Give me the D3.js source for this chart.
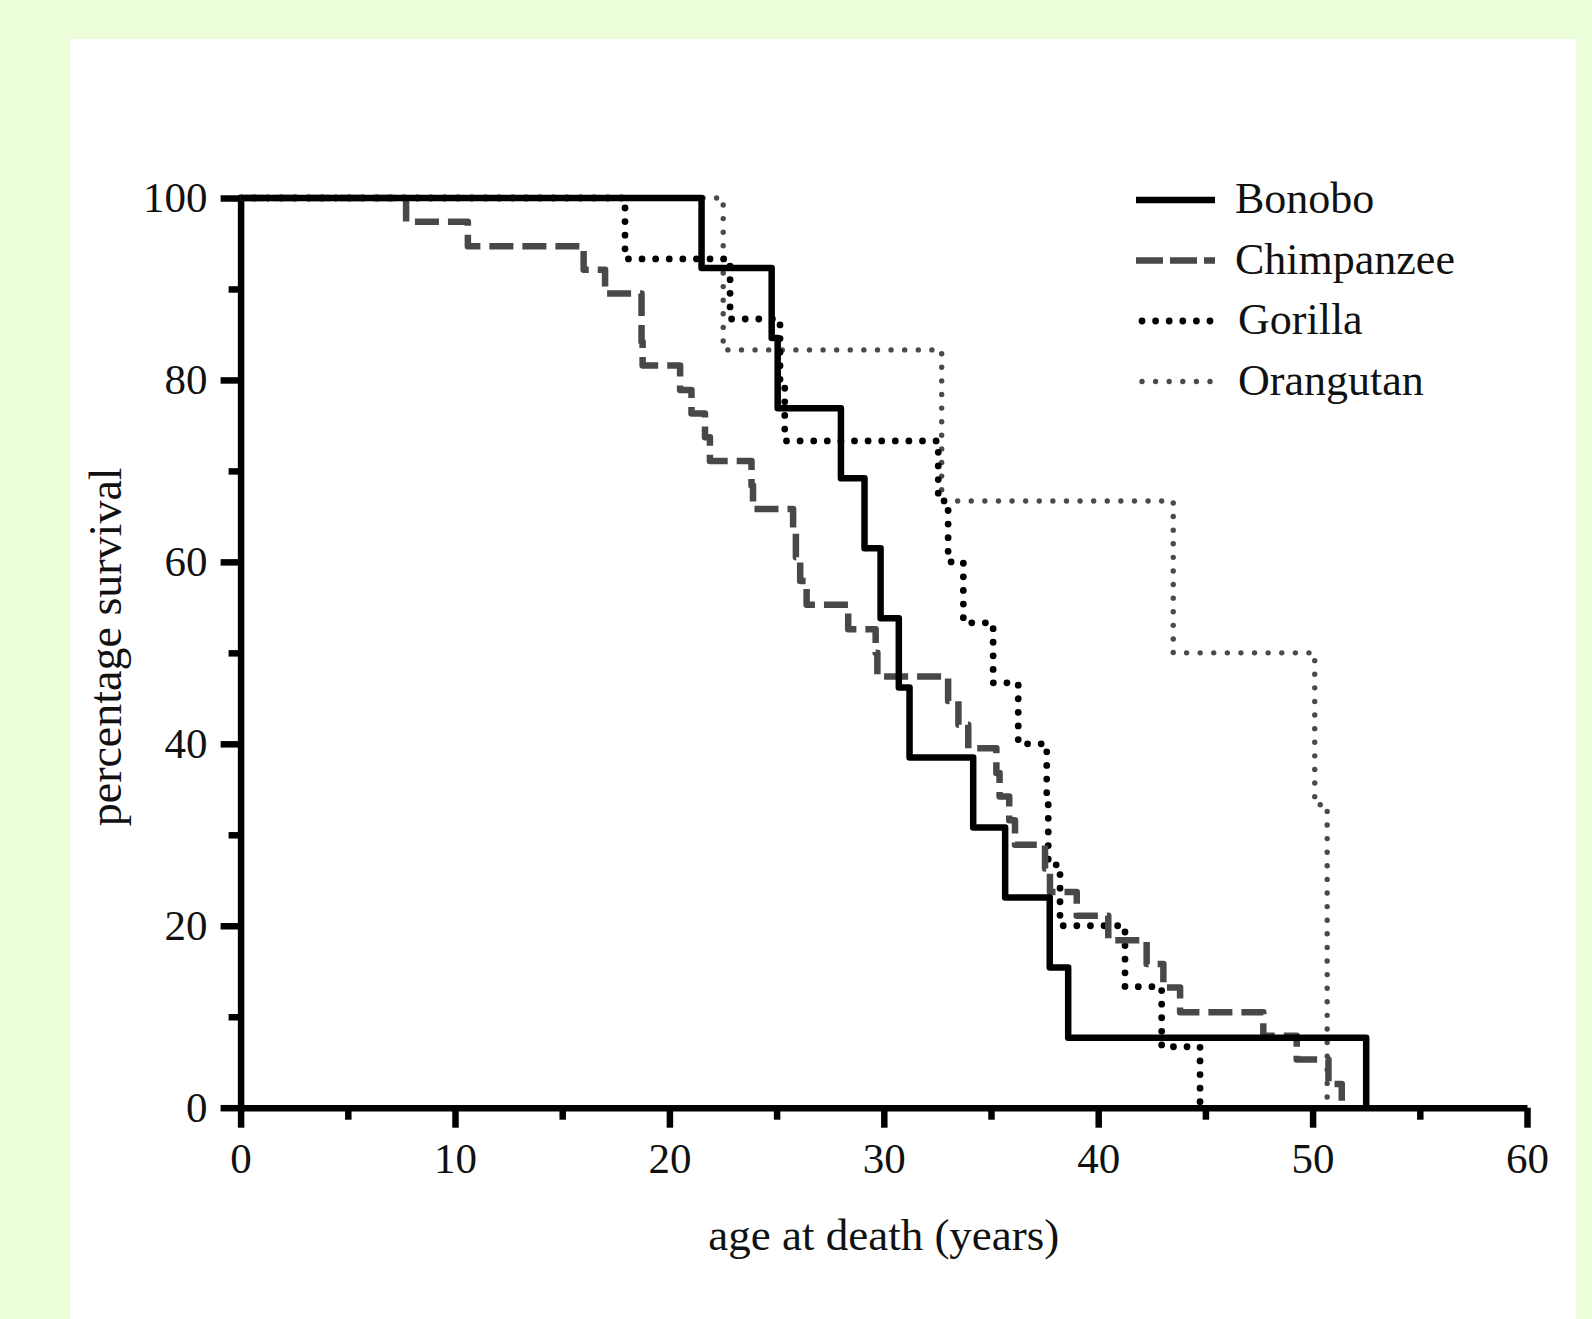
<!DOCTYPE html>
<html>
<head>
<meta charset="utf-8">
<script src="https://cdn.jsdelivr.net/npm/d3@7"></script>
<style>
  body { margin: 0; background: #ecfdda; }
  svg { display: block; }
  .axis path, .axis line { stroke: #000; stroke-width: 6.5; }
  .axis text { font-family: "Liberation Serif", "Times New Roman", serif; font-size: 43px; fill: #111; }
  .label { font-family: "Liberation Serif", "Times New Roman", serif; font-size: 45px; fill: #111; }
</style>
</head>
<body>
<div id="chart"></div>
<script>
// Survival curves: age at death (years) and % still alive after it
var bonoboAge  = [0, 21.5, 24.77, 25.05, 28.0, 29.1, 29.85, 30.7, 31.2, 34.17, 35.66, 37.74, 38.6, 52.5];
var bonoboSurv = [100, 92.3, 84.6, 76.9, 69.2, 61.5, 53.8, 46.2, 38.5, 30.8, 23.1, 15.4, 7.7, 0];

var chimpAge  = [0, 7.72, 10.6, 16.0, 17.0, 18.7, 18.7, 18.75, 20.5, 21.03, 21.66, 21.89, 23.83, 23.9,
                 25.77, 25.9, 26.1, 26.4, 28.34, 29.62, 29.7, 33.0, 33.48, 33.94, 35.25, 35.4, 35.85,
                 36.12, 37.52, 37.75, 39.0, 40.47, 42.26, 43.04, 43.82, 47.7, 49.26, 50.74, 51.36];
var chimpSurv = [100, 97.4, 94.7, 92.1, 89.5, 86.8, 84.2, 81.6, 78.9, 76.3, 73.7, 71.1, 68.4, 65.8,
                 63.2, 60.5, 57.9, 55.3, 52.6, 50.0, 47.4, 44.7, 42.1, 39.5, 36.8, 34.2, 31.6,
                 28.9, 26.3, 23.7, 21.1, 18.4, 15.8, 13.2, 10.5, 7.9, 5.3, 2.6, 0];

var gorillaAge  = [0, 17.93, 22.83, 25.16, 25.38, 32.54, 33.0, 33.71, 35.1, 36.27, 37.6, 37.67, 38.22, 41.25, 42.96, 44.75];
var gorillaSurv = [100, 93.3, 86.7, 80, 73.3, 66.7, 60, 53.3, 46.7, 40, 33.3, 26.7, 20, 13.3, 6.7, 0];

var orangAge  = [0, 22.51, 32.7, 43.5, 50.1, 50.68];
var orangSurv = [100, 83.3, 66.7, 50, 33.3, 0];

var species = ["Bonobo", "Chimpanzee", "Gorilla", "Orangutan"];
var xMajor = [0, 10, 20, 30, 40, 50, 60];
var xMinor = [5, 15, 25, 35, 45, 55];
var yMajor = [0, 20, 40, 60, 80, 100];
var yMinor = [10, 30, 50, 70, 90];

var width = 1592, height = 1319;
var margin = {top: 198, left: 240.6},
    w = 1286.4,
    h = 909.7;

var svg = d3.select("#chart")
  .append("svg")
  .attr("width", width)
  .attr("height", height);

svg.append("rect")
  .attr("width", width)
  .attr("height", height)
  .attr("fill", "#ecfdda");

// white panel
svg.append("rect")
  .attr("x", 70)
  .attr("y", 39)
  .attr("width", 1506)
  .attr("height", 1280)
  .attr("fill", "#fff");

var g = svg.append("g")
  .attr("transform", `translate(${margin.left},${margin.top})`);

var x = d3.scaleLinear().domain([0, 60]).range([0, w]);
var y = d3.scaleLinear().domain([0, 100]).range([h, 0]);

// minor ticks first, no labels
g.append("g")
  .attr("class", "axis")
  .call(d3.axisLeft(y).tickValues(yMinor).tickSize(12).tickFormat(""))
  .select(".domain").remove();
g.append("g")
  .attr("class", "axis")
  .attr("transform", "translate(0," + h + ")")
  .call(d3.axisBottom(x).tickValues(xMinor).tickSize(12).tickFormat(""))
  .select(".domain").remove();

g.append("g")
  .attr("class", "axis")
  .call(d3.axisLeft(y).tickValues(yMajor).tickSize(20).tickSizeOuter(0).tickPadding(13));
g.append("g")
  .attr("class", "axis")
  .attr("transform", "translate(0," + h + ")")
  .call(d3.axisBottom(x).tickValues(xMajor).tickSize(20).tickSizeOuter(0).tickPadding(15));

var series = [
  {name: "Bonobo", age: bonoboAge, surv: bonoboSurv, color: "#000", width: 6.5, dash: null, cap: "butt"},
  {name: "Chimpanzee", age: chimpAge, surv: chimpSurv, color: "#484848", width: 6.5, dash: "24,9", cap: "butt"},
  {name: "Gorilla", age: gorillaAge, surv: gorillaSurv, color: "#000", width: 6.8, dash: "0,13.6", cap: "round"},
  {name: "Orangutan", age: orangAge, surv: orangSurv, color: "#4a4a4a", width: 5.4, dash: "0,13.6", cap: "round"}
];

var line = d3.line()
  .x(d => x(d[0]))
  .y(d => y(d[1]))
  .curve(d3.curveStepAfter);

// draw back to front so the bonobo line ends up on top
g.selectAll(".curve")
  .data(series.slice().reverse())
  .enter().append("path")
  .attr("class", "curve")
  .attr("fill", "none")
  .attr("stroke", d => d.color)
  .attr("stroke-width", d => d.width)
  .attr("stroke-dasharray", d => d.dash)
  .attr("stroke-linecap", d => d.cap)
  .attr("stroke-linejoin", "round")
  .attr("d", d => line(d.age.map((a, i) => [a, d.surv[i]])));

// axis titles
svg.append("text")
  .attr("class", "label")
  .attr("x", margin.left + w / 2)
  .attr("y", 1250)
  .style("text-anchor", "middle")
  .text("age at death (years)");

svg.append("text")
  .attr("class", "label")
  .attr("transform", "translate(121," + (margin.top + h / 2 - 6) + ") rotate(-90)")
  .style("text-anchor", "middle")
  .style("font-size", "46px")
  .text("percentage survival");

// legend
var legend = svg.selectAll(".legend")
  .data(series)
  .enter().append("g")
  .attr("class", "legend")
  .attr("transform", (d, i) => "translate(0," + (200 + i * 60.5) + ")");

legend.append("line")
  .attr("x1", d => d.cap === "round" ? 1142 : 1136)
  .attr("x2", d => d.cap === "round" ? 1211 : 1215)
  .attr("stroke", d => d.color)
  .attr("stroke-width", d => d.width)
  .attr("stroke-dasharray", d => d.name === "Chimpanzee" ? "27,7" : d.dash)
  .attr("stroke-linecap", d => d.cap);

legend.append("text")
  .attr("class", "label")
  .attr("x", (d, i) => i < 2 ? 1235 : 1238)
  .attr("y", 13)
  .style("font-size", "44px")
  .text(d => d.name);
</script>
</body>
</html>
